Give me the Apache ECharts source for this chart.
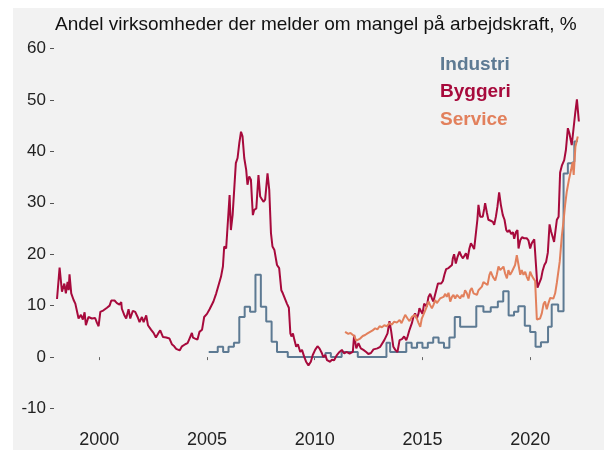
<!DOCTYPE html>
<html>
<head>
<meta charset="utf-8">
<script src="https://cdn.jsdelivr.net/npm/echarts@6/dist/echarts.min.js"></script>
<style>
  html, body { margin: 0; padding: 0; background: #fff; }
  #chart { width: 604px; height: 450px; }
</style>
</head>
<body>
<div id="chart"></div>
<script>
// series: [year, percent]
const byggeri = [
  [1998.04, 11.3], [1998.16, 17.4], [1998.27, 12.7], [1998.38, 14.3], [1998.45, 12.4], [1998.53, 14.6],
  [1998.58, 13.0], [1998.62, 16.1], [1998.70, 12.4], [1998.81, 11.1], [1998.89, 10.4], [1998.97, 10.7],
  [1999.04, 7.5], [1999.15, 8.2], [1999.24, 7.3], [1999.32, 8.7], [1999.38, 6.2], [1999.50, 7.8],
  [1999.66, 7.5], [1999.74, 7.8], [1999.81, 7.6], [1999.89, 6.7], [1999.97, 6.0], [2000.05, 8.8],
  [2000.20, 9.1], [2000.36, 9.6], [2000.48, 10.0], [2000.56, 11.0], [2000.71, 11.0], [2000.82, 10.5],
  [2000.94, 10.2], [2001.02, 10.7], [2001.05, 9.4], [2001.16, 8.2], [2001.25, 7.5], [2001.36, 9.3],
  [2001.44, 7.5], [2001.56, 9.0], [2001.67, 8.8], [2001.78, 7.8], [2001.87, 6.8], [2001.98, 7.8],
  [2002.06, 6.8], [2002.18, 8.1], [2002.26, 6.2], [2002.33, 6.2], [2002.41, 5.3], [2002.52, 4.7],
  [2002.63, 3.8], [2002.75, 4.7], [2002.83, 5.2], [2002.96, 3.9], [2003.11, 3.8], [2003.26, 3.6],
  [2003.37, 2.5], [2003.48, 2.1], [2003.57, 1.6], [2003.65, 1.9], [2003.73, 1.3], [2003.84, 2.1],
  [2003.99, 2.5], [2004.10, 2.7], [2004.19, 3.6], [2004.30, 4.7], [2004.35, 3.8], [2004.45, 3.6],
  [2004.56, 3.4], [2004.65, 4.9], [2004.77, 5.3], [2004.87, 7.8], [2005.00, 8.4], [2005.12, 9.3],
  [2005.20, 9.0], [2005.30, 10.8], [2005.43, 12.4], [2005.54, 14.0], [2005.65, 15.6], [2005.74, 17.6],
  [2005.80, 21.5], [2005.89, 21.1], [2005.97, 20.8], [2006.05, 31.5], [2006.11, 24.7], [2006.19, 27.6],
  [2006.28, 27.9], [2006.34, 37.7], [2006.42, 38.7], [2006.50, 41.6], [2006.58, 43.8], [2006.65, 42.9],
  [2006.73, 38.7], [2006.82, 36.4], [2006.88, 33.5], [2006.96, 35.1], [2007.04, 34.5], [2007.09, 30.5],
  [2007.13, 27.6], [2007.19, 28.6], [2007.29, 28.9], [2007.39, 35.4], [2007.47, 31.2], [2007.55, 31.0],
  [2007.62, 30.2], [2007.70, 30.6], [2007.81, 35.7], [2007.89, 32.5], [2007.97, 24.1], [2008.04, 21.5],
  [2008.13, 20.8], [2008.25, 17.9], [2008.35, 17.3], [2008.45, 13.0], [2008.52, 12.4], [2008.60, 12.2],
  [2008.71, 10.4], [2008.80, 9.6], [2008.87, 4.6], [2008.92, 4.0], [2008.99, 4.6], [2009.06, 3.3],
  [2009.14, 2.0], [2009.22, 2.5], [2009.33, 1.0], [2009.41, 1.4], [2009.51, 0.1], [2009.60, -0.9],
  [2009.71, -1.6], [2009.82, -0.9], [2009.91, 0.4], [2010.02, 1.4], [2010.13, 2.1], [2010.22, 1.7],
  [2010.33, 0.8], [2010.40, 0.0], [2010.49, 0.4], [2010.57, -0.6], [2010.64, -0.3], [2010.72, -0.9],
  [2010.80, -0.5], [2010.90, -0.6], [2011.03, 0.4], [2011.15, 1.0], [2011.26, 1.4], [2011.37, 0.7],
  [2011.47, 1.0], [2011.62, 0.7], [2011.77, 1.0], [2011.83, 4.3], [2011.93, 1.7], [2012.03, 2.7],
  [2012.14, 1.7], [2012.26, 1.4], [2012.39, 1.0], [2012.49, 0.6], [2012.61, 0.8], [2012.73, 1.5],
  [2012.81, 1.2], [2012.91, 1.7], [2013.04, 2.0], [2013.11, 2.3], [2013.23, 3.3], [2013.32, 3.6],
  [2013.38, 4.6], [2013.47, 7.0], [2013.55, 5.0], [2013.65, 2.0], [2013.74, 1.4], [2013.84, 1.0],
  [2013.94, 3.3], [2014.05, 3.5], [2014.15, 4.0], [2014.25, 3.3], [2014.31, 4.0], [2014.40, 5.3],
  [2014.51, 6.6], [2014.58, 7.8], [2014.66, 8.5], [2014.74, 7.5], [2014.82, 8.5], [2014.86, 9.5],
  [2014.93, 9.8], [2015.00, 8.4], [2015.08, 10.4], [2015.16, 10.6], [2015.20, 9.8], [2015.28, 11.7],
  [2015.36, 12.3], [2015.44, 11.4], [2015.51, 10.8], [2015.56, 11.7], [2015.64, 13.0], [2015.72, 14.3],
  [2015.79, 14.6], [2015.87, 14.3], [2015.95, 14.8], [2016.02, 16.0], [2016.10, 17.1], [2016.21, 17.3],
  [2016.29, 17.6], [2016.37, 17.9], [2016.41, 19.2], [2016.47, 20.0], [2016.55, 18.2], [2016.63, 19.5],
  [2016.72, 20.5], [2016.80, 19.7], [2016.88, 19.2], [2016.95, 19.7], [2017.02, 20.2], [2017.09, 19.0],
  [2017.18, 21.1], [2017.25, 22.1], [2017.34, 21.5], [2017.40, 21.0], [2017.49, 21.1], [2017.55, 26.7],
  [2017.60, 29.6], [2017.68, 27.3], [2017.80, 27.3], [2017.87, 28.9], [2017.91, 29.9], [2017.99, 28.1],
  [2018.06, 26.7], [2018.17, 26.5], [2018.27, 26.3], [2018.33, 25.7], [2018.41, 27.3], [2018.48, 29.2],
  [2018.56, 32.0], [2018.64, 29.6], [2018.73, 27.6], [2018.81, 26.7], [2018.89, 24.7], [2018.95, 24.3],
  [2019.03, 24.7], [2019.12, 23.9], [2019.20, 24.3], [2019.26, 23.0], [2019.34, 24.3], [2019.41, 24.7],
  [2019.46, 21.1], [2019.54, 22.7], [2019.62, 23.3], [2019.72, 23.1], [2019.84, 23.1], [2019.92, 22.7],
  [2020.00, 21.1], [2020.07, 22.1], [2020.19, 22.9], [2020.25, 22.7], [2020.34, 13.5], [2020.43, 13.3],
  [2020.51, 15.3], [2020.58, 16.8], [2020.66, 17.9], [2020.74, 18.5], [2020.82, 20.3], [2020.90, 25.8],
  [2020.97, 24.4], [2021.05, 23.3], [2021.11, 22.4], [2021.19, 22.7], [2021.24, 26.7], [2021.32, 27.3],
  [2021.39, 35.9], [2021.47, 37.2], [2021.58, 38.3], [2021.66, 40.3], [2021.75, 44.5], [2021.82, 43.5],
  [2021.93, 41.2], [2022.01, 40.9], [2022.09, 47.4], [2022.17, 50.1], [2022.26, 45.8]
];

// quarterly survey, drawn as steps
const industri = [
  [2005.08, 1.0], [2005.50, 2.0], [2005.75, 1.0], [2006.00, 2.0], [2006.25, 2.8], [2006.50, 7.8],
  [2006.75, 9.8], [2007.00, 8.8], [2007.25, 16.0], [2007.50, 9.8], [2007.75, 6.9], [2008.00, 3.0],
  [2008.25, 1.0], [2008.75, 0.0], [2010.50, 0.8], [2010.75, 0.0], [2011.25, 1.0], [2012.00, 0.0],
  [2013.33, 2.8], [2013.50, 1.0], [2014.25, 2.8], [2014.50, 1.8], [2014.75, 2.8], [2015.00, 1.8],
  [2015.25, 2.8], [2015.50, 3.8], [2015.75, 2.8], [2016.00, 1.8], [2016.25, 3.8], [2016.50, 7.8],
  [2016.75, 5.9], [2017.50, 9.9], [2017.83, 8.8], [2018.17, 9.7], [2018.50, 10.8], [2018.75, 12.8],
  [2019.00, 8.1], [2019.25, 8.8], [2019.45, 9.9], [2019.75, 6.1], [2020.00, 4.9], [2020.25, 2.0],
  [2020.50, 2.9], [2020.83, 5.9], [2021.00, 10.2], [2021.30, 8.9], [2021.55, 35.7], [2021.75, 37.7],
  [2021.92, 38.0], [2022.05, 41.9], [2022.17, 42.3]
];

const service = [
  [2011.41, 4.9], [2011.56, 4.5], [2011.66, 4.7], [2011.83, 4.1], [2011.93, 3.2], [2011.99, 3.0],
  [2012.11, 3.6], [2012.23, 4.1], [2012.34, 4.3], [2012.45, 4.6], [2012.57, 4.9], [2012.69, 5.2],
  [2012.81, 5.6], [2012.91, 5.4], [2013.01, 6.0], [2013.12, 5.8], [2013.23, 6.2], [2013.35, 6.0],
  [2013.47, 6.6], [2013.58, 6.3], [2013.69, 6.9], [2013.81, 6.7], [2013.94, 7.2], [2014.03, 6.6],
  [2014.20, 8.2], [2014.31, 7.5], [2014.40, 7.0], [2014.51, 7.8], [2014.58, 7.5], [2014.66, 8.2],
  [2014.74, 7.5], [2014.82, 6.6], [2014.90, 5.9], [2014.97, 7.5], [2015.05, 7.8], [2015.13, 9.1],
  [2015.20, 9.8], [2015.28, 10.8], [2015.36, 10.1], [2015.44, 9.5], [2015.51, 10.1], [2015.59, 11.1],
  [2015.67, 10.5], [2015.74, 10.8], [2015.82, 11.4], [2015.90, 11.2], [2015.98, 11.7], [2016.06, 12.3],
  [2016.13, 11.7], [2016.21, 12.5], [2016.29, 10.8], [2016.37, 11.7], [2016.44, 12.1], [2016.52, 11.4],
  [2016.60, 12.1], [2016.67, 12.4], [2016.75, 11.4], [2016.83, 12.1], [2016.90, 11.7], [2016.98, 13.0],
  [2017.06, 12.4], [2017.14, 11.4], [2017.22, 13.0], [2017.29, 13.4], [2017.37, 12.4], [2017.45, 12.7],
  [2017.53, 12.1], [2017.60, 13.0], [2017.68, 12.7], [2017.76, 13.7], [2017.83, 14.6], [2017.91, 14.3],
  [2018.02, 14.0], [2018.11, 16.0], [2018.17, 16.6], [2018.27, 15.6], [2018.38, 14.9], [2018.45, 16.0],
  [2018.53, 17.6], [2018.61, 16.9], [2018.69, 16.6], [2018.76, 17.6], [2018.84, 16.2], [2018.92, 15.3],
  [2018.99, 16.9], [2019.07, 16.0], [2019.15, 16.6], [2019.22, 16.3], [2019.30, 17.9], [2019.38, 19.8],
  [2019.46, 17.9], [2019.54, 16.0], [2019.61, 16.9], [2019.69, 16.0], [2019.77, 16.6], [2019.84, 15.6],
  [2019.92, 14.9], [2020.00, 16.6], [2020.08, 15.8], [2020.15, 15.3], [2020.23, 14.8], [2020.31, 7.3],
  [2020.38, 7.0], [2020.46, 7.5], [2020.54, 8.5], [2020.62, 10.3], [2020.69, 10.8], [2020.77, 9.3],
  [2020.85, 10.5], [2020.93, 11.5], [2021.01, 11.7], [2021.08, 11.4], [2021.16, 12.4], [2021.24, 14.5],
  [2021.31, 14.8], [2021.37, 18.5], [2021.47, 23.5], [2021.55, 26.5], [2021.62, 29.5], [2021.70, 32.2],
  [2021.80, 34.5], [2021.90, 36.4], [2021.97, 37.9], [2022.02, 35.4], [2022.10, 40.9], [2022.21, 42.9]
];

const yearTicks = [2000, 2005, 2010, 2015, 2020];
const valueTicks = [-10, 0, 10, 20, 30, 40, 50, 60];

const colors = { Industri: "#5d7a93", Byggeri: "#a70a3c", Service: "#e2805c" };

const chart = echarts.init(document.getElementById("chart"), null, { renderer: "canvas" });

let option = {
  animation: false,
  backgroundColor: "#f2f2f2",
  textStyle: { fontFamily: "Liberation Sans, Arial, sans-serif" },
  graphic: [
    { type: "rect", left: 0, top: 0, shape: { width: 604, height: 8 }, style: { fill: "#ffffff" }, silent: true },
    { type: "rect", left: 0, top: 0, shape: { width: 13, height: 450 }, style: { fill: "#ffffff" }, silent: true },
    {
      type: "text", left: 55, top: 15,
      style: { text: "Andel virksomheder der melder om mangel på arbejdskraft, %", fill: "#111", font: "19px Liberation Sans, Arial, sans-serif" }
    }
  ],
  grid: { left: 54, right: 12, top: 33, bottom: 25 },
  legend: {
    orient: "vertical",
    left: 430,
    top: 50,
    icon: "none",
    itemWidth: 0,
    itemHeight: 0,
    itemGap: 8.5,
    selectedMode: false,
    textStyle: { fontSize: 19, fontWeight: "bold" },
    data: [
      { name: "Industri", textStyle: { color: colors.Industri } },
      { name: "Byggeri", textStyle: { color: colors.Byggeri } },
      { name: "Service", textStyle: { color: colors.Service } }
    ]
  },
  xAxis: {
    type: "value",
    min: 1997.9,
    max: 2022.87,
    axisLine: { show: false },
    splitLine: { show: false },
    axisTick: { show: true, length: 3, lineStyle: { color: "#666" }, customValues: yearTicks },
    axisLabel: { color: "#222", fontSize: 18, margin: 6, customValues: yearTicks, formatter: (v) => String(v) }
  },
  yAxis: {
    type: "value",
    min: -13.2,
    max: 63,
    axisLine: { show: false },
    splitLine: { show: false },
    axisTick: { show: true, length: 4, lineStyle: { color: "#555" }, customValues: valueTicks },
    axisLabel: { color: "#222", fontSize: 17, margin: 8, customValues: valueTicks }
  },
  series: [
    {
      name: "Industri", type: "line", data: industri, step: "end",
      showSymbol: false, lineStyle: { width: 2, color: colors.Industri }, itemStyle: { color: colors.Industri }
    },
    {
      name: "Byggeri", type: "line", data: byggeri,
      showSymbol: false, lineStyle: { width: 2, color: colors.Byggeri }, itemStyle: { color: colors.Byggeri }
    },
    {
      name: "Service", type: "line", data: service,
      showSymbol: false, lineStyle: { width: 2, color: colors.Service }, itemStyle: { color: colors.Service }
    }
  ]
};

option && chart.setOption(option);
</script>
</body>
</html>
